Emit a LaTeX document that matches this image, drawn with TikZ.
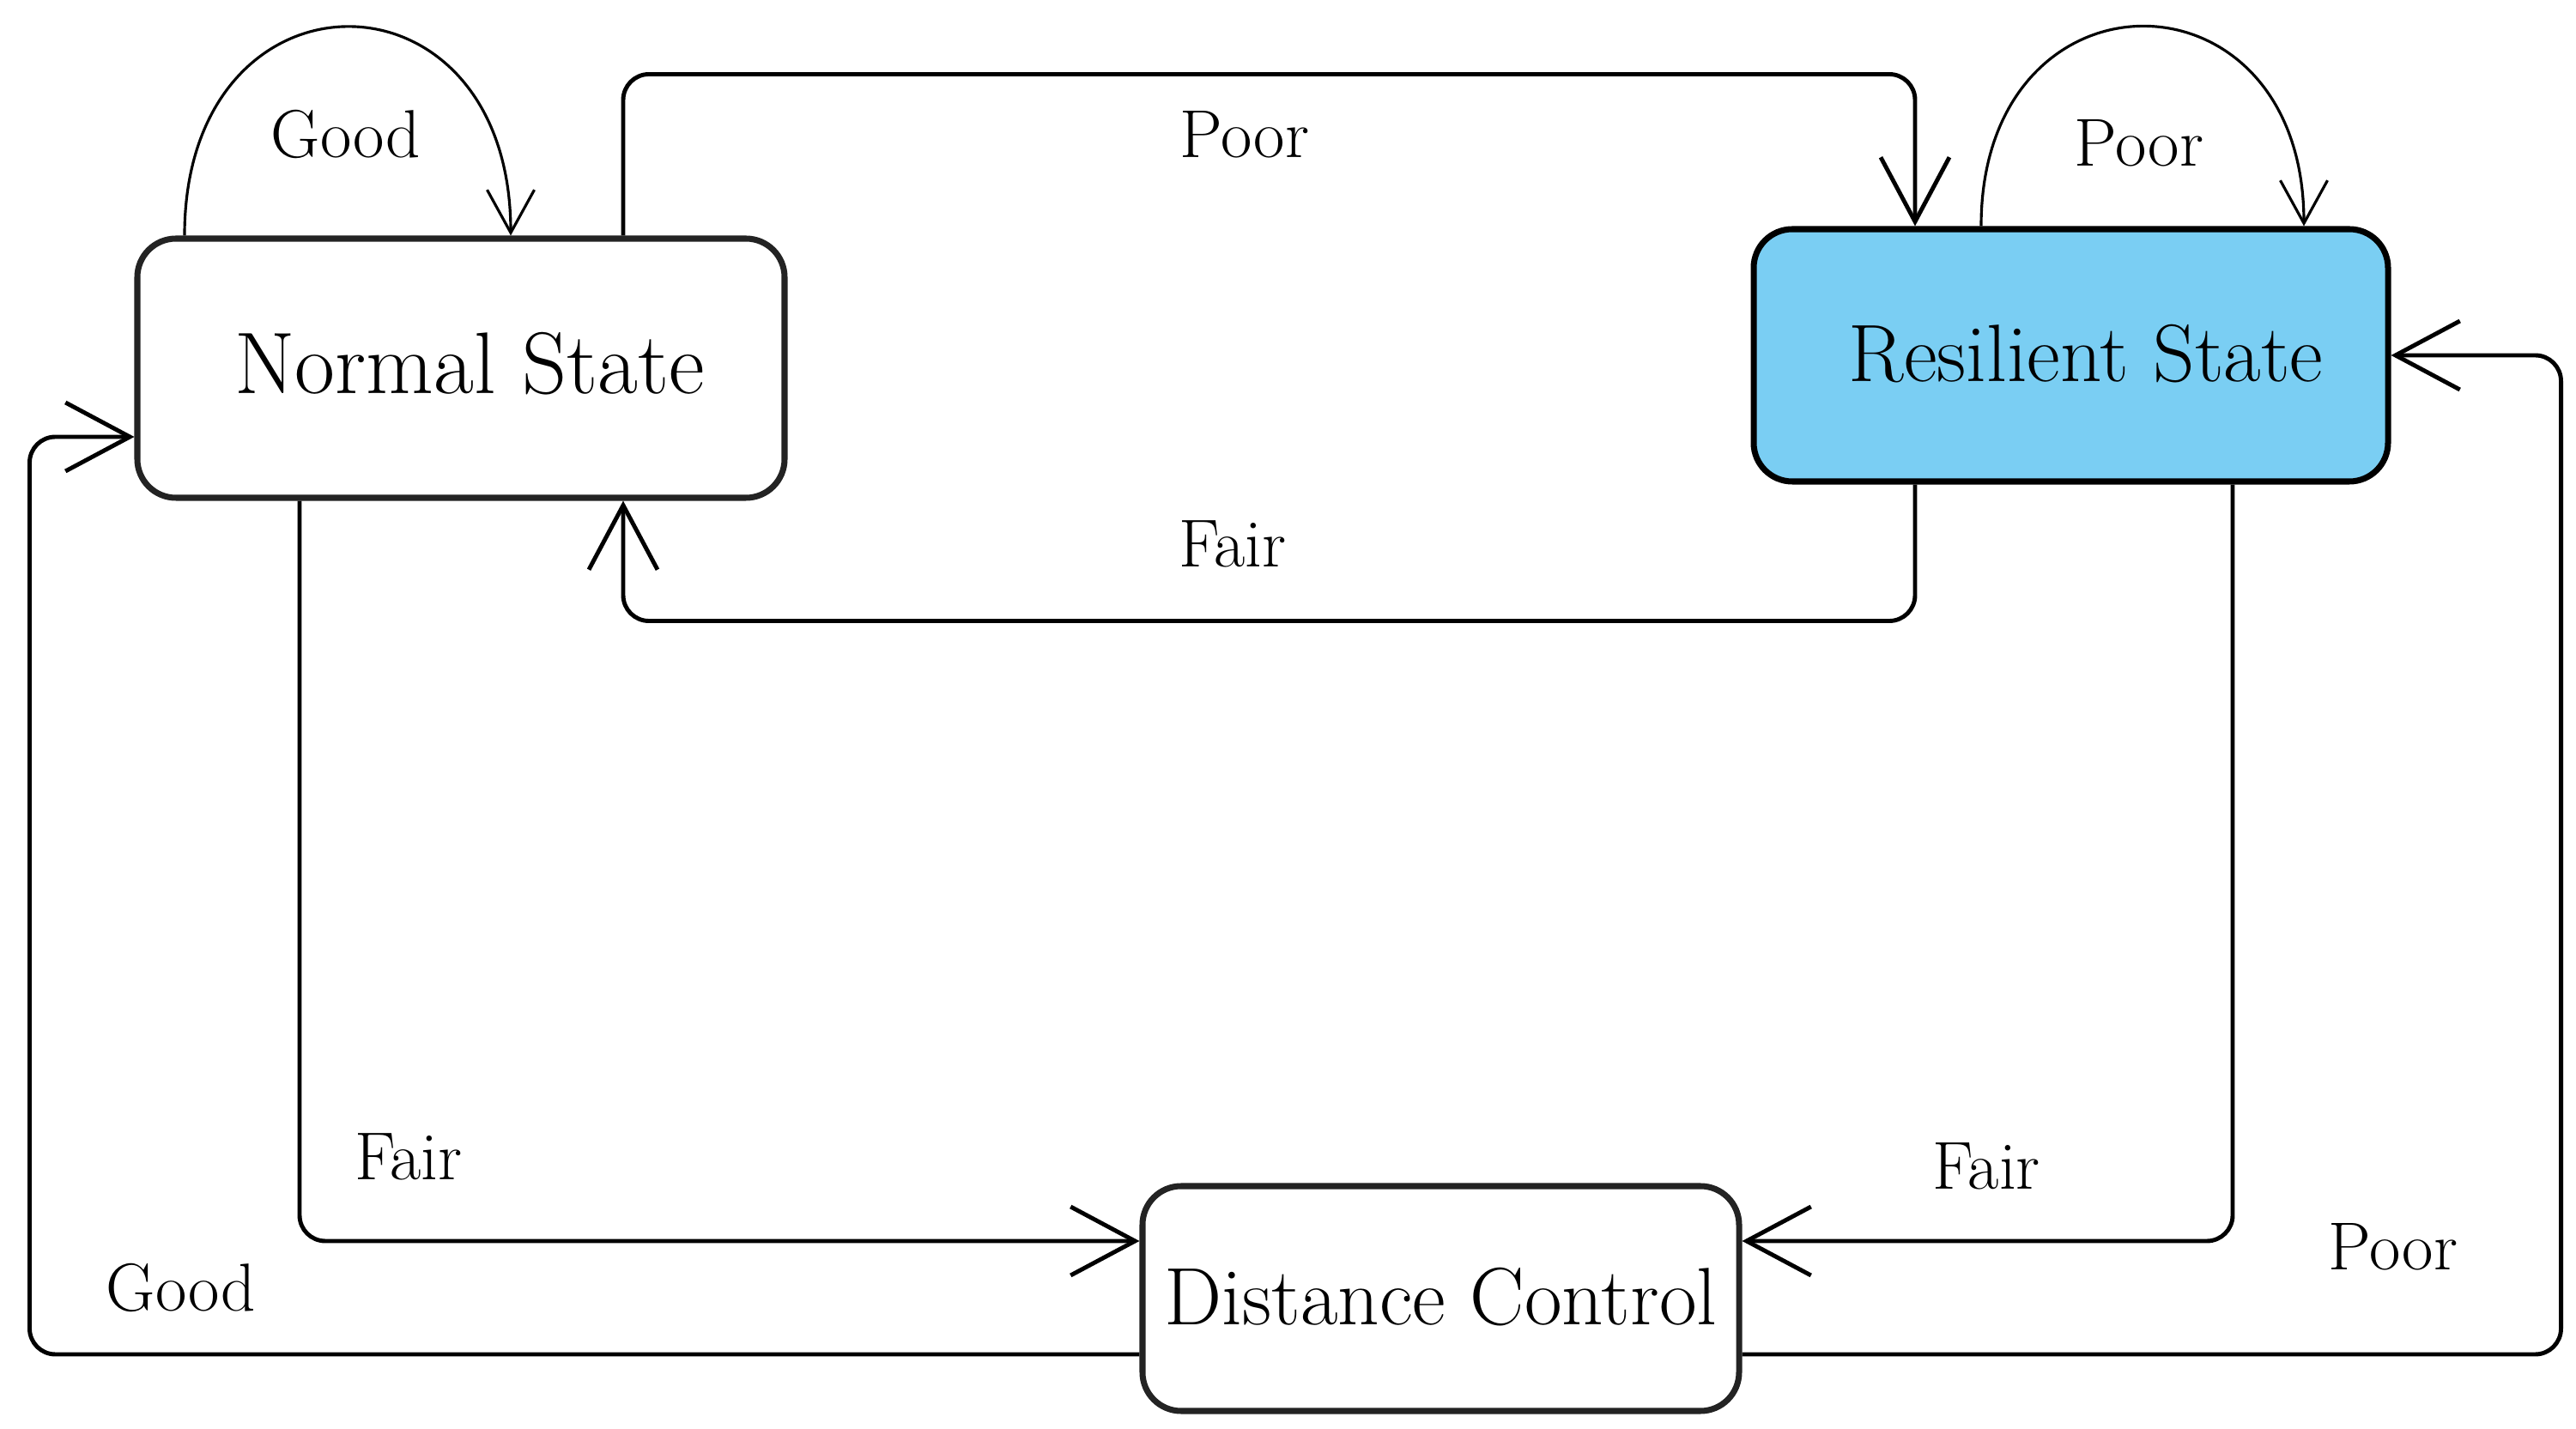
\documentclass[tikz,border=0pt]{standalone}
\usetikzlibrary{arrows.meta}
\definecolor{resblue}{RGB}{122,206,243}
\definecolor{edgegray}{RGB}{35,35,35}

\begin{document}
\begin{tikzpicture}[
    state/.style = {draw = edgegray, rounded corners = 0.45cm, line width = 2pt, inner sep = 0pt, font = \fontsize{27}{32}\selectfont},
    trans/.style = {line width = 1.4pt, rounded corners = 0.3cm, -{Straight Barb[length = 0.75cm, width = 0.8cm]}},
    selfloop/.style = {line width = 0.9pt, -{Straight Barb[length = 0.5cm, width = 0.55cm]}},
    lbl/.style = {font = \fontsize{22.5}{27}\selectfont}
]
    \useasboundingbox (0,0) rectangle (30.01,16.65);

    \node[state, minimum width = 7.54cm, minimum height = 3.02cm, font = \fontsize{29}{34}\selectfont] (normal) at (5.37,12.36) {\raisebox{0.12cm}{\hspace{0.2cm}Normal State}};
    \node[state, draw = black, fill = resblue, minimum width = 7.39cm, minimum height = 2.94cm] (resilient) at (24.125,12.51) {\raisebox{0.06cm}{\hspace{0.35cm}Resilient State}};
    \node[state, minimum width = 6.95cm, minimum height = 2.62cm] (distance) at (16.785,1.52) {\raisebox{0.05cm}{Distance Control}};

    % transitions between the states
    \draw[trans] ([xshift = 1.89cm]normal.north) -- ++(0,1.88) -| ([xshift = -1.815cm]resilient.north);
    \draw[trans] ([xshift = -1.815cm]resilient.south) -- ++(0,-1.59) -| ([xshift = 1.89cm]normal.south);
    \draw[trans] ([xshift = -1.88cm]normal.south) |- ([yshift = 0.67cm]distance.west);
    \draw[trans] ([xshift = 1.885cm]resilient.south) |- ([yshift = 0.67cm]distance.east);
    \draw[trans] ([yshift = -0.65cm]distance.west) -- ++(-12.93,0) |- ([yshift = -0.8cm]normal.west);
    \draw[trans] ([yshift = -0.65cm]distance.east) -- ++(9.54,0) |- (resilient.east);

    % self loops
    \draw[selfloop] ([xshift = -3.22cm]normal.north) .. controls +(0,3.24) and +(0,3.24) .. ([xshift = 0.58cm]normal.north);
    \draw[selfloop] ([xshift = -1.045cm]resilient.north) .. controls +(0,3.1) and +(0,3.1) .. ([xshift = 2.715cm]resilient.north);

    % labels
    \node[lbl] (goodloop) at (4.03,15.08) {Good};
    \node[lbl] (poortop) at (14.50,15.08) {Poor};
    \node[lbl] (poorloop) at (24.92,14.98) {Poor};
    \node[lbl] (fairmid) at (14.36,10.31) {Fair};
    \node[lbl] (fairleft) at (4.76,3.17) {Fair};
    \node[lbl] (fairright) at (23.14,3.06) {Fair};
    \node[lbl] (goodlow) at (2.11,1.65) {Good};
    \node[lbl] (poorlow) at (27.88,2.12) {Poor};
\end{tikzpicture}
\end{document}
